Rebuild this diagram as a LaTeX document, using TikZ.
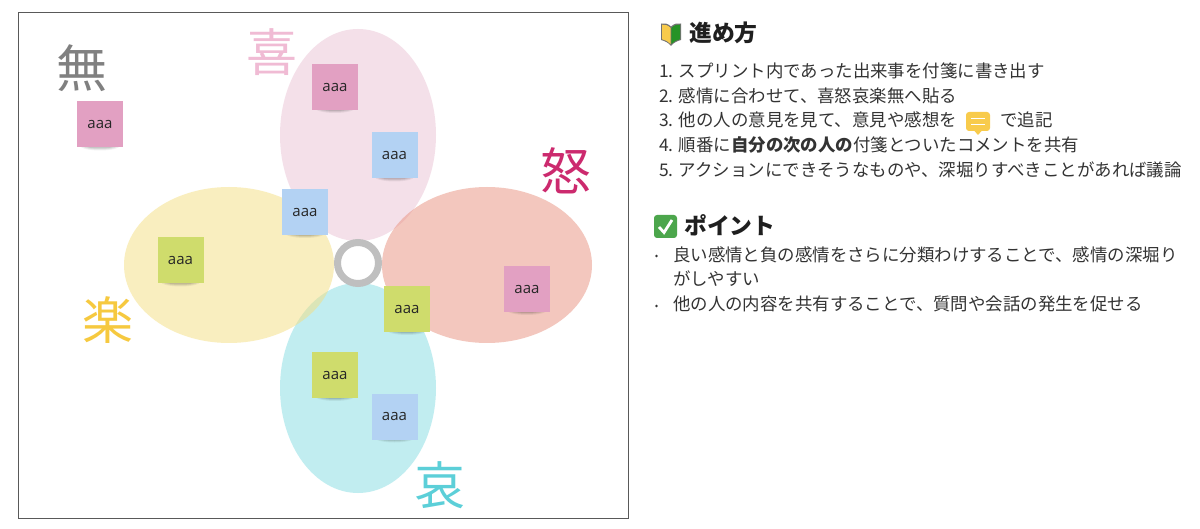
\documentclass[tikz,border=0pt]{standalone}
\usepackage{fontspec}
\setmainfont{Noto Sans CJK JP}
\newfontfamily\stickyfont{Open Sans}
\definecolor{ctop}{HTML}{EBC3D5}
\definecolor{cleft}{HTML}{F5DF80}
\definecolor{cright}{HTML}{E9917F}
\definecolor{cbottom}{HTML}{85DDE3}
\definecolor{spink}{HTML}{E2A0C2}
\definecolor{sblue}{HTML}{B3D2F3}
\definecolor{sgreen}{HTML}{CFDC6C}
\definecolor{txt}{HTML}{333333}
\definecolor{kki}{HTML}{F0BBD4}
\definecolor{kdo}{HTML}{CC2A6E}
\definecolor{kai}{HTML}{5CCFD8}
\definecolor{kraku}{HTML}{F6C93F}
\definecolor{icony}{HTML}{F8CB4C}
\tikzset{
  petal/.style={draw=none,fill opacity=0.5},
  stickybox/.style={minimum width=46pt,minimum height=46pt,inner sep=0pt,font=\stickyfont\fontsize{15}{15}\selectfont,text=black!85},
  kanji/.style={inner sep=0pt,font=\fontsize{51}{51}\selectfont},
  line/.style={anchor=west,inner sep=0pt,text=txt,font=\fontsize{17.43}{20}\selectfont},
  head/.style={anchor=west,inner sep=0pt,text=black!88,font=\bfseries\fontsize{22.8}{24}\selectfont},
}
\newcommand{\sticky}[4]{%
  \fill[black,opacity=0.06] (#2,#3+21) ellipse [x radius=20,y radius=5];
  \fill[black,opacity=0.08] (#2,#3+21) ellipse [x radius=18,y radius=4];
  \fill[black,opacity=0.10] (#2,#3+21) ellipse [x radius=16,y radius=3];
  \node[stickybox,fill=#4] (#1) at (#2,#3) {aaa};
}
\begin{document}
\begin{tikzpicture}[x=1pt,y=-1pt]
\useasboundingbox (0,0) rectangle (1200,529);
\fill[white] (0,0) rectangle (1200,529);
\draw[black!65,line width=0.8pt] (18,12.5) rectangle (628.5,518.5);
% petals
\fill[petal,fill=ctop] (358,135) ellipse [x radius=78,y radius=106];
\fill[petal,fill=cbottom] (358,388) ellipse [x radius=78,y radius=105];
\fill[petal,fill=cleft] (229,265) ellipse [x radius=105,y radius=78];
\fill[petal,fill=cright] (487,265) ellipse [x radius=105,y radius=78];
\draw[black!25,line width=7pt] (358,263) circle (20.5);
% kanji
\node[kanji,text=black!50] (mu) at (82,68) {無};
\node[kanji,text=kki] (ki) at (272,52) {喜};
\node[kanji,text=kdo] (do) at (566,171) {怒};
\node[kanji,text=kai] (ai) at (440,485) {哀};
\node[kanji,text=kraku] (raku) at (108,320) {楽};
% stickies
\sticky{s1}{100}{124.5}{spink}
\sticky{s2}{335}{87}{spink}
\sticky{s3}{394.5}{155.5}{sblue}
\sticky{s4}{305}{212}{sblue}
\sticky{s5}{180.5}{260.5}{sgreen}
\sticky{s6}{527}{289}{spink}
\sticky{s7}{407}{309}{sgreen}
\sticky{s8}{335}{375}{sgreen}
\sticky{s9}{394.5}{416.5}{sblue}
% heading 1 mark
\fill[black!55] (671,26.5) .. controls (668,23.5) and (664.5,23) .. (661,23.5) -- (661,40) .. controls (665,41) and (669,43) .. (671,46) .. controls (673,43) and (677,41) .. (681,40) -- (681,23.5) .. controls (677.5,23) and (674,23.5) .. (671,26.5) -- cycle;
\fill[icony] (670.6,28) .. controls (668,25) and (665,24.5) .. (662,24.7) -- (662,39.2) .. controls (665,40) and (668.5,41.5) .. (670.6,44) -- cycle;
\fill[green!50!black!85!white] (671.4,28) .. controls (674,25) and (677,24.5) .. (680,24.7) -- (680,39.2) .. controls (677,40) and (673.5,41.5) .. (671.4,44) -- cycle;
\node[head] (h1) at (689,33) {進め方};
\node[line] (l1) at (659,70.5) {1. スプリント内であった出来事を付箋に書き出す};
\node[line] (l2) at (659,95.5) {2. 感情に合わせて、喜怒哀楽無へ貼る};
\node[line] (l3) at (659,120) {3. 他の人の意見を見て、意見や感想を};
\fill[icony,rounded corners=3pt] (966,112) rectangle (990,131);
\fill[icony] (974.5,131) -- (981.5,131) -- (978,135) -- cycle;
\draw[white,line width=1.4pt] (971,118.5) -- (985,118.5) (971,124.5) -- (985,124.5);
\node[line] (l3b) at (1000,120) {で追記};
\node[line] (l4) at (659,145) {4. 順番に\textbf{自分の次の人の}付箋とついたコメントを共有};
\node[line] (l5) at (659,170) {5. アクションにできそうなものや、深堀りすべきことがあれば議論};
% heading 2 mark
\fill[green!50!black!70!white,rounded corners=3pt] (654,215) rectangle (677,238);
\draw[white,line width=2.8pt] (659,227) -- (664,232.5) -- (672,220);
\node[head] (h2) at (684,225) {ポイント};
\node[line] (b1) at (673,254.5) {良い感情と負の感情をさらに分類わけすることで、感情の深堀り};
\node[line] (b1b) at (673,279) {がしやすい};
\node[line] (b2) at (673,304) {他の人の内容を共有することで、質問や会話の発生を促せる};
\fill[txt] (656.5,256) circle (1.4);
\fill[txt] (656.5,306) circle (1.4);
\end{tikzpicture}
\end{document}
